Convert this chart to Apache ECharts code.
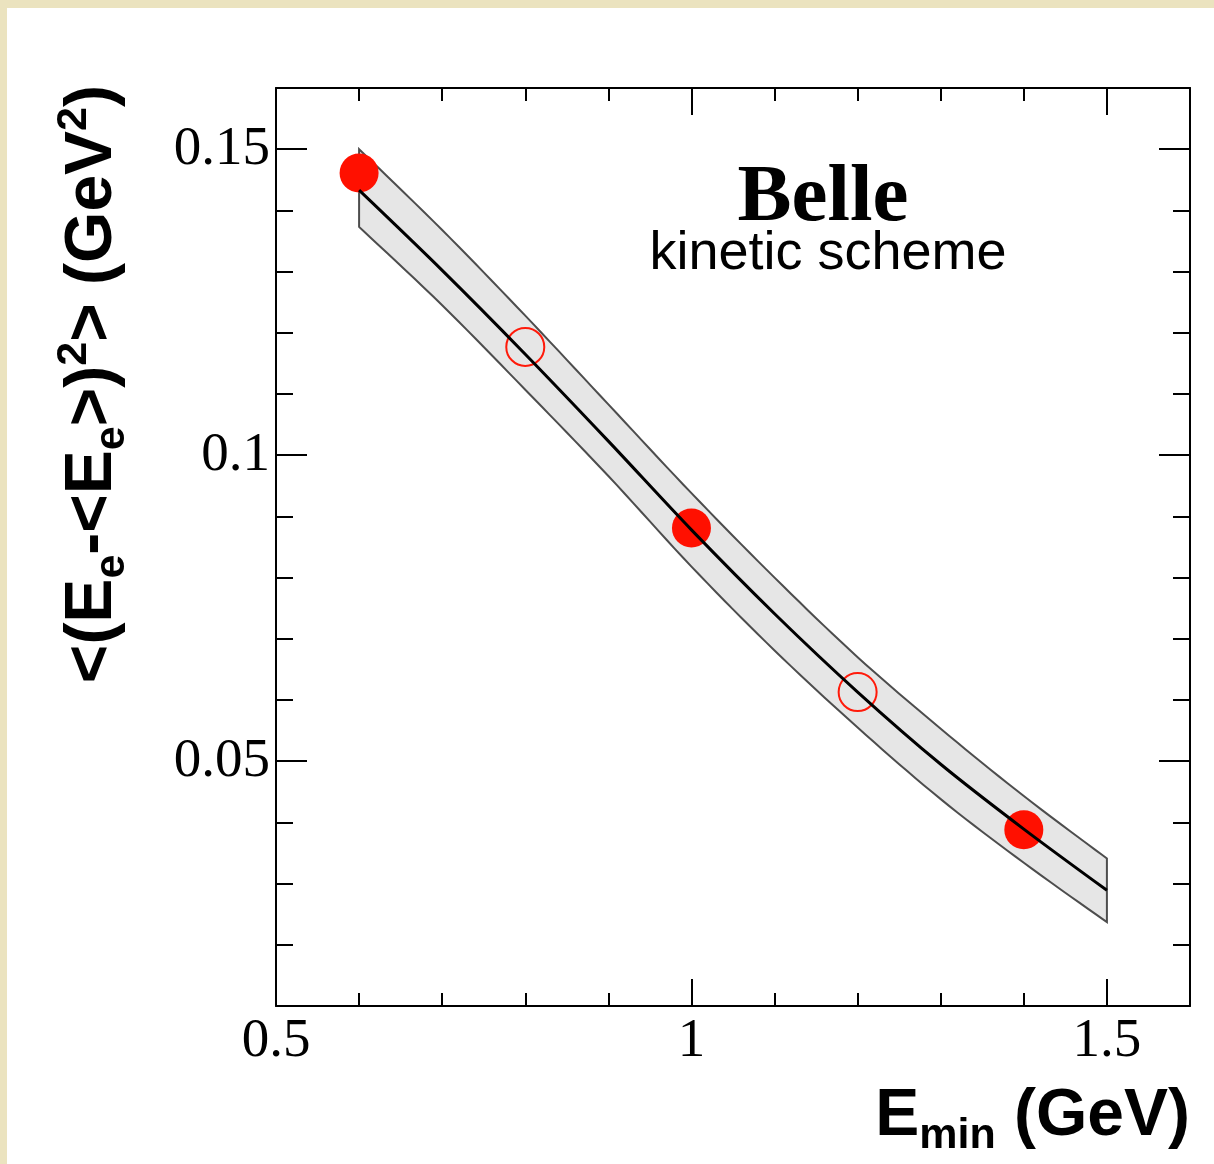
<!DOCTYPE html>
<html>
<head>
<meta charset="utf-8">
<script src="https://cdn.jsdelivr.net/npm/echarts@6/dist/echarts.min.js"></script>
<style>
  html, body { margin: 0; padding: 0; background: #ebe3bf; }
  #chart { position: absolute; left: 7px; top: 8px; width: 1207px; height: 1156px; background: #fff; }
</style>
</head>
<body>
<div id="chart"></div>
<script>
  // theory curve (kinetic scheme) with its error band
  var bandX = [0.6, 0.7, 0.8, 0.9, 1.0, 1.1, 1.2, 1.3, 1.4, 1.5];
  var bandCenter = [0.1433, 0.1302, 0.1165, 0.1023, 0.0878, 0.0741, 0.0613, 0.0495, 0.0389, 0.0289];
  var bandUpper = [0.1500, 0.1368, 0.1228, 0.1083, 0.0938, 0.0800, 0.0670, 0.0553, 0.0443, 0.0341];
  var bandLower = [0.1373, 0.1245, 0.1107, 0.0966, 0.0818, 0.0681, 0.0555, 0.0438, 0.0334, 0.0237];

  // Belle measurements: filled = used in fit, open = not used
  var filledX = [0.6, 1.0, 1.4];
  var filledY = [0.1461, 0.0881, 0.0388];
  var openX = [0.8, 1.2];
  var openY = [0.1177, 0.0613];

  // ticks
  var xMajor = [0.5, 1, 1.5];
  var yMajor = [0.05, 0.1, 0.15];

  var black = '#000';
  var serif = 'Liberation Serif';
  var sans = 'Liberation Sans';

  var titleRich = {
    t: { fontFamily: sans, fontWeight: 'bold', fontSize: 66, lineHeight: 82, color: black },
    sub: { fontFamily: sans, fontWeight: 'bold', fontSize: 43, lineHeight: 43, padding: [38, 0, 0, 0], color: black },
    sup: { fontFamily: sans, fontWeight: 'bold', fontSize: 43, lineHeight: 43, padding: [0, 0, 38, 0], color: black }
  };

  // catmull-rom through pixel points, so the band edges bend like the curve
  function smoothPts(p) {
    var out = [];
    for (var i = 0; i < p.length - 1; i++) {
      var p0 = p[Math.max(i - 1, 0)], p1 = p[i], p2 = p[i + 1], p3 = p[Math.min(i + 2, p.length - 1)];
      var c1 = [p1[0] + (p2[0] - p0[0]) / 6, p1[1] + (p2[1] - p0[1]) / 6];
      var c2 = [p2[0] - (p3[0] - p1[0]) / 6, p2[1] - (p3[1] - p1[1]) / 6];
      for (var k = 0; k < 10; k++) {
        var t = k / 10, u = 1 - t;
        out.push([
          u * u * u * p1[0] + 3 * u * u * t * c1[0] + 3 * u * t * t * c2[0] + t * t * t * p2[0],
          u * u * u * p1[1] + 3 * u * u * t * c1[1] + 3 * u * t * t * c2[1] + t * t * t * p2[1]
        ]);
      }
    }
    out.push(p[p.length - 1]);
    return out;
  }

  function minorX(pos) {
    return {
      type: 'value', position: pos, min: 0.5, max: 1.6, interval: 0.1,
      axisLine: { show: true, onZero: false, lineStyle: { color: black, width: 2 } },
      axisTick: { inside: true, length: 13, lineStyle: { color: black, width: 2 } },
      axisLabel: { show: false },
      splitLine: { show: false }
    };
  }
  function majorX(pos, labels) {
    return {
      type: 'value', position: pos, min: 0.5, max: 1.6,
      axisLine: { show: false, onZero: false },
      axisTick: { inside: true, length: 27, customValues: xMajor, lineStyle: { color: black, width: 2 } },
      axisLabel: { show: labels, customValues: xMajor, fontFamily: serif, fontSize: 55, color: black, margin: 8 },
      splitLine: { show: false }
    };
  }
  function minorY(pos) {
    return {
      type: 'value', position: pos, min: 0.01, max: 0.16, interval: 0.01,
      axisLine: { show: true, onZero: false, lineStyle: { color: black, width: 2 } },
      axisTick: { inside: true, length: 17, lineStyle: { color: black, width: 2 } },
      axisLabel: { show: false },
      splitLine: { show: false }
    };
  }
  function majorY(pos, labels) {
    return {
      type: 'value', position: pos, min: 0.01, max: 0.16,
      axisLine: { show: false, onZero: false },
      axisTick: { inside: true, length: 31, customValues: yMajor, lineStyle: { color: black, width: 2 } },
      axisLabel: { show: labels, customValues: yMajor, fontFamily: serif, fontSize: 55, color: black, margin: 6 },
      splitLine: { show: false }
    };
  }

  var xBottom = majorX('bottom', true);
  xBottom.name = '{t|E}{sub|min}{t| (GeV)}';
  xBottom.nameLocation = 'end';
  xBottom.nameGap = 0;
  xBottom.nameTextStyle = { align: 'right', verticalAlign: 'top', padding: [70, 0, 0, 0], rich: titleRich };

  var yLeft = majorY('left', true);
  yLeft.name = '{t|<(E}{sub|e}{t|-<E}{sub|e}{t|>)}{sup|2}{t|> (GeV}{sup|2}{t|)}';
  yLeft.nameLocation = 'end';
  yLeft.nameRotate = 90;
  yLeft.nameGap = 3;
  yLeft.nameTextStyle = { align: 'right', verticalAlign: 'bottom', padding: [0, 0, 142, 0], rich: titleRich };

  var option = {
    animation: false,
    backgroundColor: '#fff',
    title: [
      {
        text: 'Belle',
        left: 811,
        top: 146,
        textAlign: 'center',
        textStyle: { fontFamily: serif, fontWeight: 'bold', fontSize: 81, color: black }
      },
      {
        text: 'kinetic scheme',
        left: 816,
        top: 214,
        textAlign: 'center',
        textStyle: { fontFamily: sans, fontWeight: 'normal', fontSize: 54, color: black }
      }
    ],
    grid: { left: 269, top: 80, width: 914, height: 918 },
    xAxis: [minorX('bottom'), xBottom, minorX('top'), majorX('top', false)],
    yAxis: [minorY('left'), yLeft, minorY('right'), majorY('right', false)],
    series: [
      {
        name: 'band',
        type: 'custom',
        data: [[bandX[0], bandUpper[0]]],
        renderItem: function (params, api) {
          var up = [], lo = [];
          for (var i = 0; i < bandX.length; i++) {
            up.push(api.coord([bandX[i], bandUpper[i]]));
            lo.push(api.coord([bandX[i], bandLower[i]]));
          }
          var pts = smoothPts(up).concat(smoothPts(lo).reverse());
          return {
            type: 'polygon',
            shape: { points: pts },
            style: { fill: '#e6e6e6', stroke: '#4d4d4d', lineWidth: 2 }
          };
        }
      },
      {
        name: 'theory',
        type: 'line',
        smooth: 0.3,
        showSymbol: false,
        data: bandX.map(function (x, i) { return [x, bandCenter[i]]; }),
        lineStyle: { color: black, width: 3 }
      },
      {
        name: 'open',
        type: 'scatter',
        symbol: 'circle',
        symbolSize: 38,
        data: openX.map(function (x, i) { return [x, openY[i]]; }),
        itemStyle: { color: 'rgba(0,0,0,0)', borderColor: '#ff1a0a', borderWidth: 2, opacity: 1 }
      },
      {
        name: 'filled',
        type: 'scatter',
        symbol: 'circle',
        symbolSize: 39,
        data: filledX.map(function (x, i) { return [x, filledY[i]]; }),
        itemStyle: { color: '#ff1000', opacity: 1 }
      }
    ]
  };

  var chart = echarts.init(document.getElementById('chart'));
  chart.setOption(option);
</script>
</body>
</html>
